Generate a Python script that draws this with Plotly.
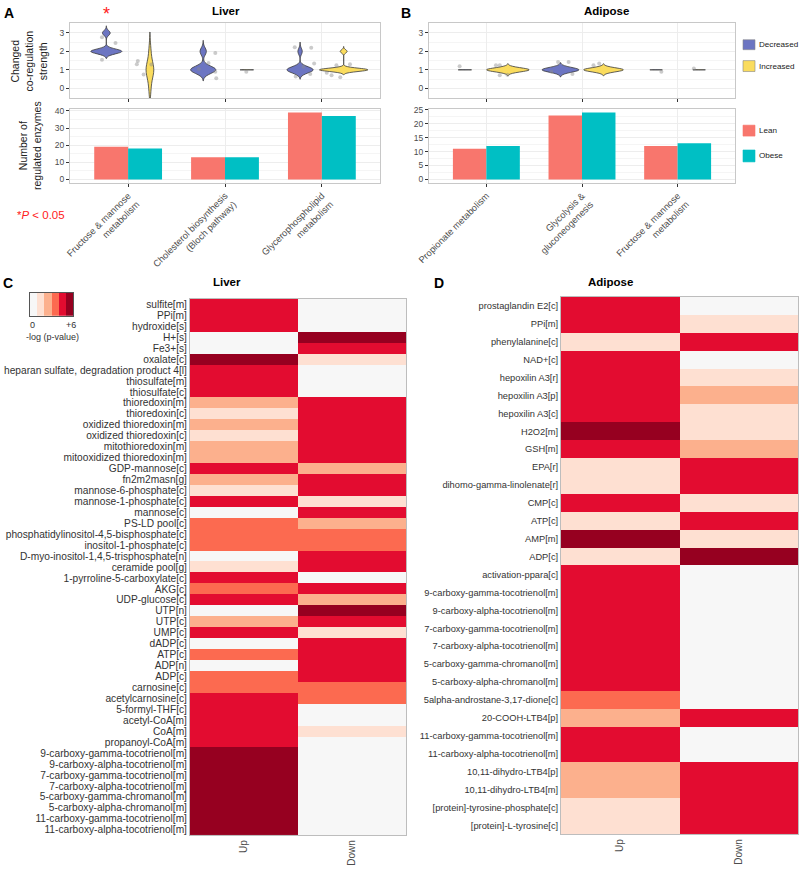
import plotly.graph_objects as go

W, H = 800, 869
FONT = "Liberation Sans, Arial, sans-serif"

# ---------------- DATA ----------------
liver_pathways = ["Fructose & mannose<br>metabolism", "Cholesterol biosynthesis<br>(Bloch pathway)",
                  "Glycerophospholipid<br>metabolism"]
adipose_pathways = ["Propionate metabolism", "Glycolysis &<br>gluconeogenesis", "Fructose & mannose<br>metabolism"]

liver_lean = [19, 13, 39]
liver_obese = [18, 13, 37]
adipose_lean = [11, 23, 12]
adipose_obese = [12, 24, 13]

# changed co-regulation strength per pathway (violin samples)
liver_decreased = [[2, 2, 2, 2, 3], [1, 1, 1, 1, 2], [1, 1, 1, 1, 1, 1, 2]]
liver_increased = [[0, 1, 1, 1, 1, 2], [1, 1], [1, 1, 1, 1, 1, 1, 1, 2]]
adipose_decreased = [[1, 1], [1, 1, 1, 1, 1], [1]]
adipose_increased = [[1, 1, 1, 1, 1], [1, 1, 1, 1, 1], [1]]

# jittered raw points (category index + jitter, value + jitter)
liver_pts_x = [-0.27, -0.13, -0.27, 0.10, 0.09, 0.16, 0.24, 0.73, 0.83, 0.90, 0.90, 0.91, 1.22,
               1.72, 1.89, 1.92, 1.88, 1.73, 1.81, 2.10, 2.19, 2.29, 2.05, 2.15]
liver_pts_y = [2.77, 2.45, 1.55, 1.48, 1.30, 0.75, 1.29, 1.05, 1.37, 1.91, 0.89, 0.54, 0.89,
               2.23, 2.20, 1.34, 0.77, 0.63, 1.16, 0.71, 0.59, 1.30, 0.84, 1.25]
adipose_pts_x = [-0.28, 0.10, 0.14, 0.14, 0.22, 0.75, 0.86, 0.90, 0.68, 1.12, 1.18, 1.83, 2.17]
adipose_pts_y = [1.20, 1.25, 1.25, 0.71, 0.73, 1.43, 1.43, 0.77, 0.89, 1.25, 1.34, 0.89, 1.07]

# heatmap levels: 0 = not significant ... 5 = strongest (-log p)
liver_metabolites = [
    "sulfite[m]", "PPi[m]", "hydroxide[s]", "H+[s]", "Fe3+[s]", "oxalate[c]",
    "heparan sulfate, degradation product 4[l]", "thiosulfate[m]", "thiosulfate[c]",
    "thioredoxin[m]", "thioredoxin[c]", "oxidized thioredoxin[m]", "oxidized thioredoxin[c]",
    "mitothioredoxin[m]", "mitooxidized thioredoxin[m]", "GDP-mannose[c]", "fn2m2masn[g]",
    "mannose-6-phosphate[c]", "mannose-1-phosphate[c]", "mannose[c]", "PS-LD pool[c]",
    "phosphatidylinositol-4,5-bisphosphate[c]", "inositol-1-phosphate[c]",
    "D-myo-inositol-1,4,5-trisphosphate[n]", "ceramide pool[g]", "1-pyrroline-5-carboxylate[c]",
    "AKG[c]", "UDP-glucose[c]", "UTP[n]", "UTP[c]", "UMP[c]", "dADP[c]", "ATP[c]", "ADP[n]",
    "ADP[c]", "carnosine[c]", "acetylcarnosine[c]", "5-formyl-THF[c]", "acetyl-CoA[m]", "CoA[m]",
    "propanoyl-CoA[m]", "9-carboxy-gamma-tocotrienol[m]", "9-carboxy-alpha-tocotrienol[m]",
    "7-carboxy-gamma-tocotrienol[m]", "7-carboxy-alpha-tocotrienol[m]",
    "5-carboxy-gamma-chromanol[m]", "5-carboxy-alpha-chromanol[m]",
    "11-carboxy-gamma-tocotrienol[m]", "11-carboxy-alpha-tocotrienol[m]"]
liver_up = [4, 4, 4, 0, 0, 5, 4, 4, 4, 2, 1, 2, 1, 2, 2, 4, 2, 1, 4, 0, 3, 3, 3, 0, 1, 4,
            3, 4, 0, 2, 4, 0, 3, 0, 3, 3, 4, 4, 4, 4, 4, 5, 5, 5, 5, 5, 5, 5, 5]
liver_down = [0, 0, 0, 5, 4, 1, 0, 0, 0, 4, 4, 4, 4, 4, 4, 2, 4, 4, 1, 4, 2, 3, 3, 4, 4, 0,
              4, 2, 5, 4, 1, 4, 4, 4, 4, 3, 3, 0, 0, 1, 0, 0, 0, 0, 0, 0, 0, 0, 0]

adipose_metabolites = [
    "prostaglandin E2[c]", "PPi[m]", "phenylalanine[c]", "NAD+[c]", "hepoxilin A3[r]",
    "hepoxilin A3[p]", "hepoxilin A3[c]", "H2O2[m]", "GSH[m]", "EPA[r]",
    "dihomo-gamma-linolenate[r]", "CMP[c]", "ATP[c]", "AMP[m]", "ADP[c]", "activation-ppara[c]",
    "9-carboxy-gamma-tocotrienol[m]", "9-carboxy-alpha-tocotrienol[m]",
    "7-carboxy-gamma-tocotrienol[m]", "7-carboxy-alpha-tocotrienol[m]",
    "5-carboxy-gamma-chromanol[m]", "5-carboxy-alpha-chromanol[m]",
    "5alpha-androstane-3,17-dione[c]", "20-COOH-LTB4[p]", "11-carboxy-gamma-tocotrienol[m]",
    "11-carboxy-alpha-tocotrienol[m]", "10,11-dihydro-LTB4[p]", "10,11-dihydro-LTB4[m]",
    "[protein]-tyrosine-phosphate[c]", "[protein]-L-tyrosine[c]"]
adipose_up = [4, 4, 1, 4, 4, 4, 4, 5, 4, 1, 1, 4, 1, 5, 1, 4, 4, 4, 4, 4, 4, 4, 3, 2, 4, 4, 2, 2, 1, 1]
adipose_down = [0, 1, 4, 0, 1, 2, 1, 1, 2, 4, 4, 1, 4, 1, 5, 0, 0, 0, 0, 0, 0, 0, 0, 4, 0, 0, 4, 4, 4, 4]

directions = ["Up", "Down"]
legend_levels = [0, 1, 2, 3, 4, 5]

# ---------------- STYLES ----------------
C_DEC, C_INC = "#6C75C2", "#FADC5E"
C_LEAN, C_OBESE = "#F8766D", "#00BFC4"
heat_colors = ["#F7F7F7", "#FEE0D2", "#FCB08D", "#FC6A50", "#E30C30", "#960020"]
# (max width, bandwidth, span top cap) per violin
liver_dec_style = [(0.32, 0.13, None), (0.26, 0.2, None), (0.27, 0.17, None)]
liver_inc_style = [(0.08, 0.45, 3.05), (0.14, 0.004, None), (0.5, 0.09, None)]
adipose_dec_style = [(0.14, 0.004, None), (0.38, 0.13, None), (0.13, 0.004, None)]
adipose_inc_style = [(0.44, 0.11, None), (0.41, 0.11, None), (0.13, 0.004, None)]


def dx(a, b):
    return [a / W, b / W]


def dy(top, bottom):
    return [1 - bottom / H, 1 - top / H]


fig = go.Figure()


def add_violins(xa, ya, dec, inc, dec_st, inc_st):
    for data, st, off, col in ((dec, dec_st, -0.225, C_DEC), (inc, inc_st, 0.225, C_INC)):
        for i in range(3):
            w, bw, cap = st[i]
            hi = max(data[i]) + 3 * bw if cap is None else cap
            fig.add_trace(go.Violin(
                y=data[i], x0=i + off, orientation="v", xaxis=xa, yaxis=ya,
                fillcolor=col, opacity=1, line=dict(color="#3A3A3A", width=0.8),
                width=w, bandwidth=bw, spanmode="manual",
                span=[min(data[i]) - 3 * bw, hi],
                points=False, scalemode="width", showlegend=False, hoverinfo="skip"))


add_violins("x", "y", liver_decreased, liver_increased, liver_dec_style, liver_inc_style)
add_violins("x3", "y3", adipose_decreased, adipose_increased, adipose_dec_style, adipose_inc_style)

fig.add_trace(go.Scatter(x=liver_pts_x, y=liver_pts_y, mode="markers", xaxis="x", yaxis="y",
                         marker=dict(color="rgba(140,140,140,0.45)", size=4), showlegend=False,
                         hoverinfo="skip"))
fig.add_trace(go.Scatter(x=adipose_pts_x, y=adipose_pts_y, mode="markers", xaxis="x3", yaxis="y3",
                         marker=dict(color="rgba(140,140,140,0.45)", size=4), showlegend=False,
                         hoverinfo="skip"))

# bars
for xa, ya, cats, lean, obese in (("x2", "y2", liver_pathways, liver_lean, liver_obese),
                                  ("x4", "y4", adipose_pathways, adipose_lean, adipose_obese)):
    fig.add_trace(go.Bar(x=cats, y=lean, marker_color=C_LEAN, xaxis=xa, yaxis=ya,
                         showlegend=False, hoverinfo="skip", marker_line_width=0))
    fig.add_trace(go.Bar(x=cats, y=obese, marker_color=C_OBESE, xaxis=xa, yaxis=ya,
                         showlegend=False, hoverinfo="skip", marker_line_width=0))

# heatmaps
cs = []
for i, c in enumerate(heat_colors):
    cs += [[i / 6, c], [(i + 1) / 6, c]]

fig.add_trace(go.Heatmap(z=[[u, d] for u, d in zip(liver_up, liver_down)], x=directions,
                         y=list(range(len(liver_metabolites))), colorscale=cs, zmin=-0.5, zmax=5.5,
                         showscale=False, xaxis="x5", yaxis="y5", hoverinfo="skip"))
fig.add_trace(go.Heatmap(z=[[u, d] for u, d in zip(adipose_up, adipose_down)], x=directions,
                         y=list(range(len(adipose_metabolites))), colorscale=cs, zmin=-0.5, zmax=5.5,
                         showscale=False, xaxis="x6", yaxis="y6", hoverinfo="skip"))
fig.add_trace(go.Heatmap(z=[legend_levels], colorscale=cs, zmin=-0.5, zmax=5.5, showscale=False,
                         xaxis="x7", yaxis="y7", hoverinfo="skip"))

tickfont = dict(family=FONT, size=8.5, color="#4D4D4D")
frame = dict(showline=True, mirror=True, linecolor="#C8C8C8", linewidth=1, zeroline=False)
grid = dict(showgrid=True, gridcolor="#EDEDED", gridwidth=1)


def vx(dom):
    return dict(domain=dom, type="linear", range=[-0.6, 2.6], tickvals=[0, 1, 2], showticklabels=False,
                ticks="outside", ticklen=3, tickcolor="#333", **frame, **grid)


def vy(dom):
    return dict(domain=dom, range=[-0.55, 3.55], tickvals=[0, 1, 2, 3], ticks="outside", ticklen=3,
                tickcolor="#333", tickfont=tickfont,
                minor=dict(dtick=0.5, showgrid=True, gridcolor="#F5F5F5", ticks=""), **frame, **grid)


def bx(dom):
    return dict(domain=dom, type="category", range=[-0.6, 2.6], tickangle=-45, ticks="outside",
                ticklen=3, tickcolor="#333", tickfont=dict(family=FONT, size=9.3, color="#4D4D4D"),
                automargin=False, **frame, **grid)


def by(dom, rng, step, minor):
    return dict(domain=dom, range=rng, dtick=step, tick0=0, ticks="outside", ticklen=3, tickcolor="#333",
                tickfont=tickfont, minor=dict(dtick=minor, showgrid=True, gridcolor="#F5F5F5", ticks=""),
                **frame, **grid)


def hx(dom):
    return dict(domain=dom, tickangle=-90, ticks="", tickfont=dict(family=FONT, size=10, color="#4D4D4D"),
                showline=True, mirror=True, linecolor="#BDBDBD", showgrid=False, zeroline=False,
                automargin=False)


def hy(dom, labels, size):
    return dict(domain=dom, tickvals=list(range(len(labels))), ticktext=labels,
                range=[len(labels) - 0.5, -0.5], ticks="", tickfont=dict(family=FONT, size=size, color="#333"),
                showline=True, mirror=True, linecolor="#BDBDBD", showgrid=False, zeroline=False,
                automargin=False)


fig.update_layout(
    width=W, height=H, margin=dict(l=0, r=0, t=0, b=0), paper_bgcolor="white", plot_bgcolor="white",
    font=dict(family=FONT), violinmode="overlay", barmode="group", bargap=0.3, bargroupgap=0,
    xaxis=dict(anchor="y", **vx(dx(70, 380))), yaxis=dict(anchor="x", **vy(dy(19, 95))),
    xaxis2=dict(anchor="y2", **bx(dx(70, 380))), yaxis2=dict(anchor="x2", **by(dy(106, 180), [-1.95, 40.95], 10, 5)),
    xaxis3=dict(anchor="y3", **vx(dx(429, 735))), yaxis3=dict(anchor="x3", **vy(dy(19, 95))),
    xaxis4=dict(anchor="y4", **bx(dx(429, 735))), yaxis4=dict(anchor="x4", **by(dy(106, 180), [-1.2, 25.2], 5, 2.5)),
    xaxis5=dict(anchor="y5", **hx(dx(190, 406))), yaxis5=dict(anchor="x5", **hy(dy(297, 837), liver_metabolites, 10.2)),
    xaxis6=dict(anchor="y6", **hx(dx(561, 798))), yaxis6=dict(anchor="x6", **hy(dy(295, 836), adipose_metabolites, 9.3)),
    xaxis7=dict(anchor="y7", domain=dx(30, 73), visible=True, showticklabels=False, ticks="", showgrid=False,
                zeroline=False, showline=True, mirror=True, linecolor="#555"),
    yaxis7=dict(anchor="x7", domain=dy(291, 314), visible=True, showticklabels=False, ticks="", showgrid=False,
                zeroline=False, showline=True, mirror=True, linecolor="#555"),
)

ann = []


def text(x, y, t, size=9.5, color="#222", bold=False, angle=0, xanchor="center", yanchor="middle"):
    ann.append(dict(x=x / W, y=1 - y / H, xref="paper", yref="paper", text=f"<b>{t}</b>" if bold else t,
                    showarrow=False, textangle=angle, xanchor=xanchor, yanchor=yanchor,
                    font=dict(family=FONT, size=size, color=color)))


text(9, 9, "A", 14, "#000", True)
text(406, 9, "B", 14, "#000", True)
text(8, 281, "C", 14, "#000", True)
text(439, 281, "D", 14, "#000", True)
text(226, 7, "Liver", 11.5, "#000", True)
text(606, 7, "Adipose", 11.5, "#000", True)
text(227, 280, "Liver", 11.5, "#000", True)
text(610, 280, "Adipose", 11.5, "#000", True)
text(29, 57, "Changed<br>co-regulation<br>strength", 10.5, "#222", angle=-90)
text(30, 143, "Number of<br>regulated enzymes", 10.5, "#222", angle=-90)
text(41, 212, "*<i>P</i> < 0.05", 11.5, "#FF2020")
text(32, 323, "0", 9, "#333")
text(71, 323, "+6", 9, "#333")
text(52, 335, "-log (p-value)", 9, "#333")
ann.append(dict(x=-0.225, y=1 - 10 / H, xref="x", yref="paper", text="*", showarrow=False,
                font=dict(family=FONT, size=18, color="#FF2020"), yanchor="middle"))

# legends
shapes = []
for (top, bot, col, lab, outline) in ((36, 46, C_DEC, "Decreased", True), (57, 68, C_INC, "Increased", True),
                                      (122, 133, C_LEAN, "Lean", False), (147, 159, C_OBESE, "Obese", False)):
    shapes.append(dict(type="rect", xref="paper", yref="paper", x0=743 / W, x1=755 / W, y0=1 - bot / H,
                       y1=1 - top / H, fillcolor=col,
                       line=dict(color="#888" if outline else col, width=0.6)))
    text(757, (top + bot) / 2, lab, 8.1, "#222", xanchor="left")

fig.update_layout(annotations=ann, shapes=shapes)
fig.write_html("out.html", config={"displayModeBar": False},
               post_script="document.body.style.margin='0px';document.body.style.overflow='hidden';")
